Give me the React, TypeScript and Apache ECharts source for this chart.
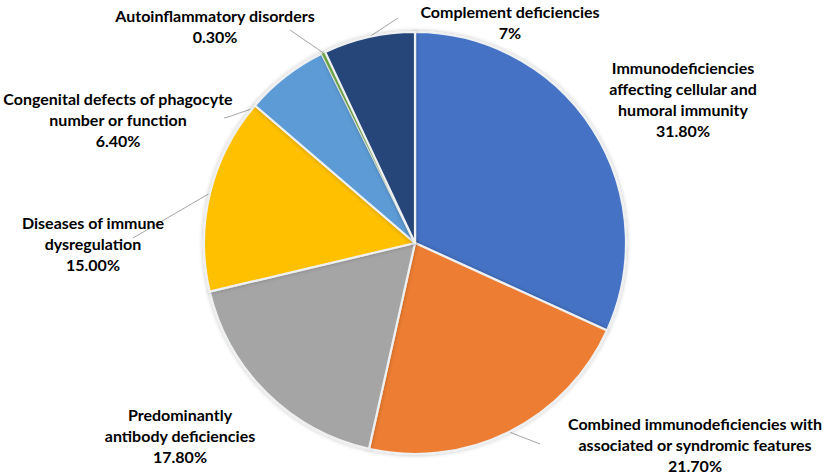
import React, { useEffect, useRef } from "react";
import * as echarts from "echarts";

const categories = [
  "Immunodeficiencies\naffecting cellular and\nhumoral immunity",
  "Combined immunodeficiencies with\nassociated or syndromic features",
  "Predominantly\nantibody deficiencies",
  "Diseases of immune\ndysregulation",
  "Congenital defects of phagocyte\nnumber or function",
  "Autoinflammatory disorders",
  "Complement deficiencies",
];
const values = [31.8, 21.7, 17.8, 15.0, 6.4, 0.3, 7];
const percentLabels = ["31.80%", "21.70%", "17.80%", "15.00%", "6.40%", "0.30%", "7%"];
const colors = ["#4472C4", "#ED7D31", "#A5A5A5", "#FFC000", "#5B9BD5", "#70AD47", "#264478"];

// label placement (text block centre) and leader line end points
const labelPlacement: { x: number; y: number; line: number[][] | null; start?: number[] }[] = [
  { x: 683, y: 99, line: null },
  { x: 695, y: 444, line: [[540, 444]] },
  { x: 180, y: 435, line: null },
  { x: 93, y: 243, line: [[133, 238]] },
  { x: 118, y: 119, line: [[228, 117], [224, 118]], start: [257, 107] },
  { x: 215, y: 26, line: [[290, 30]] },
  { x: 510, y: 22, line: [[398, 18]] },
];

export default function App() {
  const ref = useRef<HTMLDivElement>(null);
  useEffect(() => {
    if (!ref.current) return;
    const chart = echarts.init(ref.current, undefined, { renderer: "svg" });
    chart.setOption({
      animation: false,
      backgroundColor: "#ffffff",
      series: [
        {
          type: "pie",
          center: [415, 243],
          radius: 211,
          startAngle: 90,
          clockwise: true,
          avoidLabelOverlap: false,
          itemStyle: {
            borderColor: "#eef0f2",
            borderWidth: 2.2,
            shadowBlur: 4,
            shadowColor: "rgba(0,0,0,0.25)",
          },
          label: {
            show: true,
            position: "outside",
            fontFamily: "Lato",
            fontWeight: "bold",
            fontSize: 16,
            lineHeight: 21,
            color: "#000",
            align: "center",
            formatter: (p: any) => `${p.name}\n${percentLabels[p.dataIndex]}`,
          },
          labelLine: {
            show: true,
            lineStyle: { color: "#a6a6a6", width: 1 },
          },
          labelLayout: (p: any) => {
            const cfg = labelPlacement[p.dataIndex];
            const out: any = { x: cfg.x, y: cfg.y, align: "center", verticalAlign: "middle" };
            if (cfg.line) {
              const s = cfg.start || (p.labelLinePoints ? p.labelLinePoints[0] : cfg.line[0]);
              out.labelLinePoints = cfg.line.length === 1
                ? [s, cfg.line[0], cfg.line[0]]
                : [s, ...cfg.line];
            }
            return out;
          },
          data: values.map((v, i) => ({
            value: v,
            name: categories[i],
            itemStyle: i === 5
              ? { color: colors[i], borderWidth: 0.3 }
              : { color: colors[i] },
            labelLine: { show: labelPlacement[i].line !== null },
          })),
        },
      ],
    });
    return () => chart.dispose();
  }, []);
  return (
    <div
      ref={ref}
      style={{ position: "fixed", left: 0, top: 0, width: 829, height: 476 }}
    />
  );
}
